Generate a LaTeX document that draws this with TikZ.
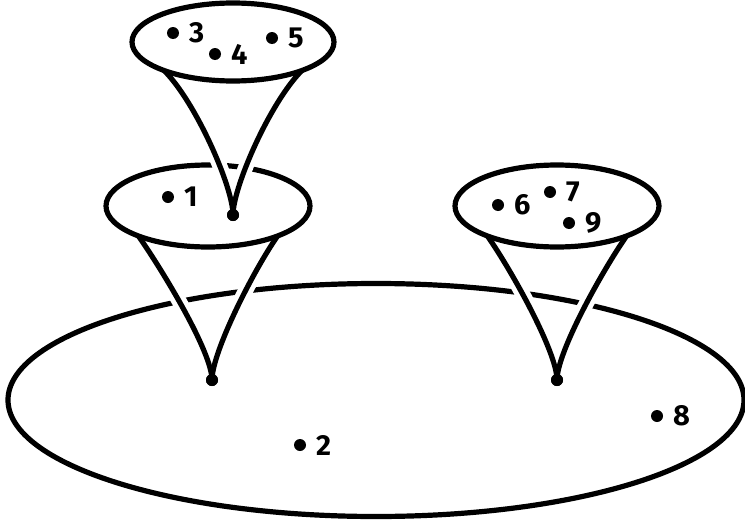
\documentclass[tikz,border=0pt]{standalone}
\usepackage{fontspec}
\setmainfont{Fira Sans}
\usetikzlibrary{positioning,calc}

\begin{document}
\begin{tikzpicture}[x=1pt,y=1pt,line width=5.2pt,
  dot/.style={circle,fill,inner sep=0pt,minimum size=12pt},
  num/.style={inner sep=0pt,font=\fontsize{29}{33}\selectfont\bfseries},
  gap/.style={white,line width=15pt}]
  \useasboundingbox (0,0) rectangle (745,-525);
  % discs: base sheet, two on the sheet, one on top
  \coordinate (cB) at (376,-400);
  \coordinate (cL) at (208,-206);
  \coordinate (cR) at (557,-206);
  \coordinate (cT) at (233,-42);
  \draw (cB) ellipse [x radius=368pt,y radius=116.5pt];
  \draw (cL) ellipse [x radius=102pt,y radius=41pt];
  \draw (cR) ellipse [x radius=102pt,y radius=41pt];
  \draw (cT) ellipse [x radius=101pt,y radius=39pt];
  % tips of the funnels
  \node[dot] (aT) at (233,-215) {};
  \node[dot] (aL) at (212,-380) {};
  \node[dot] (aR) at (557,-380) {};
  % rim points where each funnel leaves its disc
  \foreach \c/\rx/\ry in {T/101/39, L/102/41, R/102/41} {
    \coordinate (\c l) at ($(c\c)+(227:\rx pt and \ry pt)$);
    \coordinate (\c r) at ($(c\c)+(313:\rx pt and \ry pt)$);
  }
  % break the rims where the funnels pass in front
  \begin{scope}
    \clip (150,-150) rectangle (320,-185) (100,-270) rectangle (320,-325)
          (440,-270) rectangle (680,-325);
    \foreach \c/\o/\d in {T/45/45, L/55/42, R/55/42} {
      \draw[gap] (\c l) .. controls +(-\o:\d) and +(0,28) .. (a\c.center);
      \draw[gap] (\c r) .. controls +(180+\o:\d) and +(0,28) .. (a\c.center);
    }
  \end{scope}
  \foreach \c/\o/\d in {T/45/45, L/55/42, R/55/42} {
    \draw (\c l) .. controls +(-\o:\d) and +(0,28) .. (a\c.center);
    \draw (\c r) .. controls +(180+\o:\d) and +(0,28) .. (a\c.center);
  }
  \node[dot] at (aT) {};
  \node[dot] at (aL) {};
  \node[dot] at (aR) {};
  % labelled points
  \foreach \n/\x/\y in {3/173/33, 4/215/54, 5/272/38, 1/168/197, 6/498/205,
                        7/550/192, 9/569/223, 2/300/445, 8/657/416} {
    \node[dot] (p\n) at (\x,-\y) {};
    \node[num,right=5pt of p\n] (l\n) {\n};
  }
\end{tikzpicture}
\end{document}
